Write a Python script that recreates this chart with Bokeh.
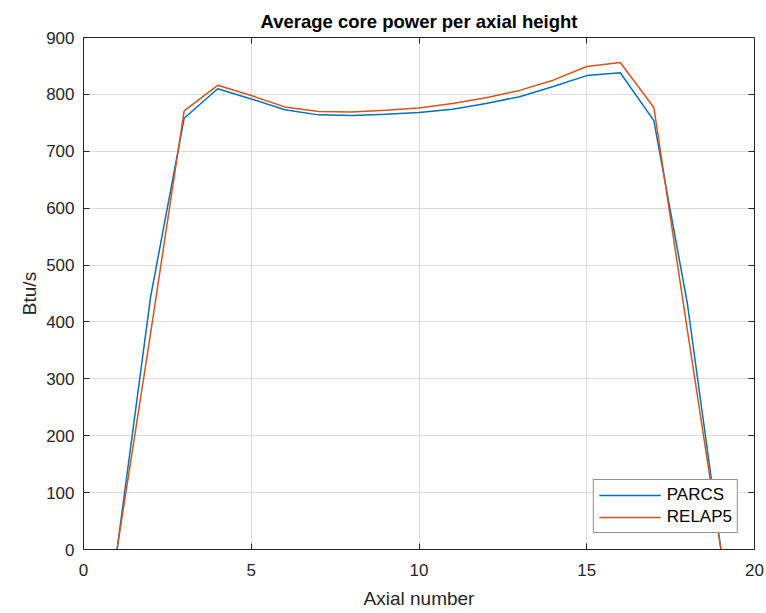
from bokeh.plotting import figure
from bokeh.models import LinearAxis, FixedTicker, Legend, LegendItem, Range1d, CustomJSTickFormatter
from bokeh.embed import file_html
from bokeh.resources import INLINE

axial = [1, 2, 3, 4, 5, 6, 7, 8, 9, 10, 11, 12, 13, 14, 15, 16, 17, 18, 19]
parcs = [0, 444, 758, 810, 792, 773, 764, 763, 765, 768, 774, 784, 796, 814, 833, 838, 754, 432, 0]
relap5 = [0, 380, 771, 816, 798, 778, 770, 769, 772, 776, 784, 794, 807, 825, 849, 856, 777, 385, 0]
x_ticks = [0, 5, 10, 15, 20]
y_ticks = [0, 100, 200, 300, 400, 500, 600, 700, 800, 900]

FONT = "Liberation Sans"
AX = "#262626"

p = figure(width=766, height=613, output_backend="svg", toolbar_location=None,
           x_range=Range1d(0, 20), y_range=Range1d(0, 900),
           min_border_left=83, min_border_right=12, min_border_top=37, min_border_bottom=64,
           title="Average core power per axial height")
p.title.align = "center"
p.title.text_font = FONT
p.title.text_font_size = "18.5px"
p.title.text_font_style = "bold"
p.title.text_color = "#000000"
p.title.standoff = 12
p.outline_line_color = None

for ax in p.xaxis + p.yaxis:
    ax.axis_line_color = AX
    ax.major_tick_line_color = AX
    ax.major_tick_in = 6
    ax.major_tick_out = 0
    ax.minor_tick_line_color = None
    ax.major_label_text_font = FONT
    ax.major_label_text_font_size = "17px"
    ax.major_label_text_color = AX
    ax.axis_label_text_font = FONT
    ax.axis_label_text_font_size = "19px"
    ax.axis_label_text_font_style = "normal"
    ax.axis_label_text_color = AX

p.xaxis.ticker = FixedTicker(ticks=x_ticks)
p.yaxis.ticker = FixedTicker(ticks=y_ticks)
p.xaxis.axis_label = "Axial number"
p.yaxis.axis_label = "Btu/s"
p.xaxis.major_label_standoff = 14
p.yaxis.major_label_standoff = 9
p.xaxis.axis_label_standoff = 9
p.yaxis.axis_label_standoff = 3

blank = CustomJSTickFormatter(code="return ''")
top = LinearAxis(ticker=FixedTicker(ticks=x_ticks), formatter=blank, major_label_standoff=0,
                 axis_line_color=AX, major_tick_line_color=AX, major_tick_in=6, major_tick_out=0,
                 minor_tick_line_color=None)
right = LinearAxis(ticker=FixedTicker(ticks=y_ticks), formatter=blank, major_label_standoff=0,
                   axis_line_color=AX, major_tick_line_color=AX, major_tick_in=6, major_tick_out=0,
                   minor_tick_line_color=None)
p.add_layout(top, "above")
p.add_layout(right, "right")

p.xgrid.grid_line_color = "#dcdcdc"
p.ygrid.grid_line_color = "#dcdcdc"
p.xgrid.ticker = FixedTicker(ticks=x_ticks)
p.ygrid.ticker = FixedTicker(ticks=y_ticks)

r1 = p.line(axial, parcs, line_color="#0072BD", line_width=1.5)
r2 = p.line(axial, relap5, line_color="#D95319", line_width=1.5)

legend = Legend(items=[LegendItem(label="PARCS", renderers=[r1]),
                       LegendItem(label="RELAP5", renderers=[r2])],
                location="bottom_right")
legend.label_text_font = FONT
legend.label_text_font_size = "17px"
legend.label_text_color = "#000000"
legend.glyph_width = 62
legend.glyph_height = 20
legend.label_height = 20
legend.spacing = 2
legend.padding = 5
legend.margin = 16
legend.border_line_color = AX
legend.border_line_width = 1
legend.background_fill_color = "white"
legend.background_fill_alpha = 1
legend.label_standoff = 6
p.add_layout(legend)

open("out.html", "w").write(file_html(p, INLINE))
